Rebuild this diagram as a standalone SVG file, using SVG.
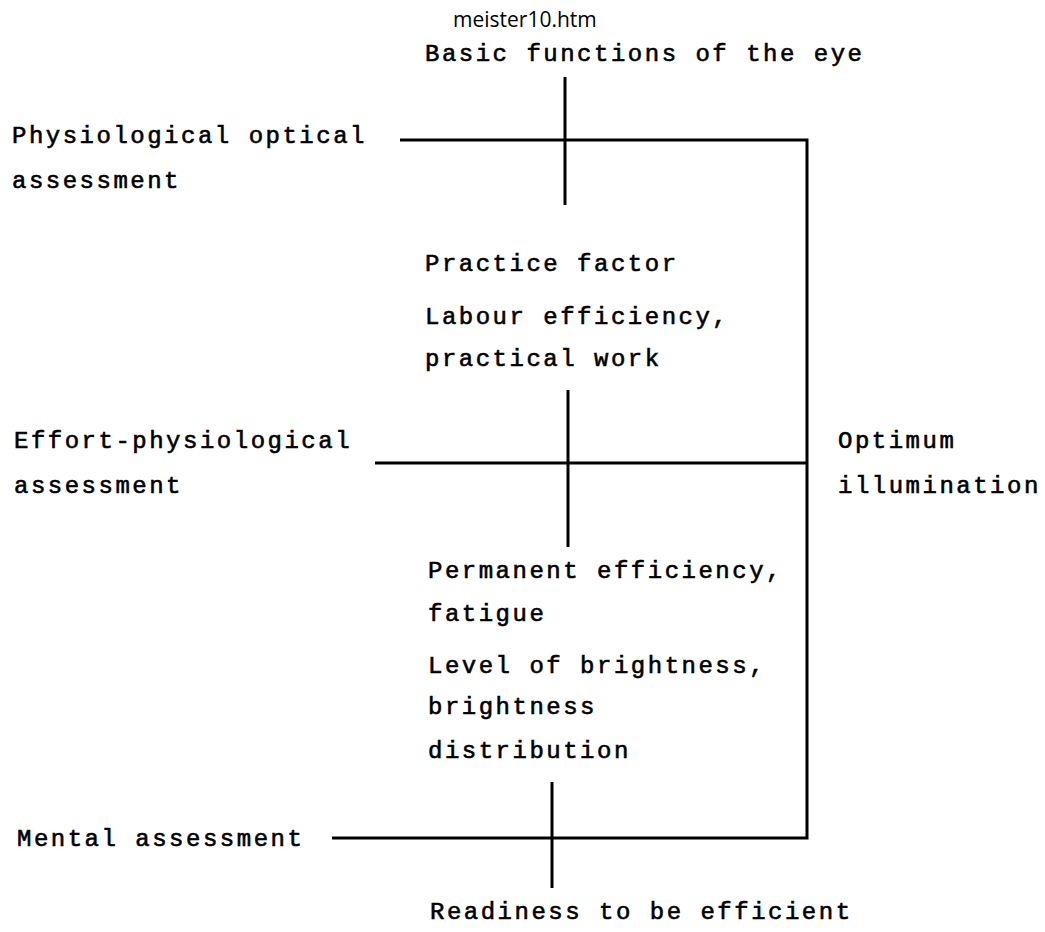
<svg xmlns="http://www.w3.org/2000/svg" width="1045" height="932" viewBox="0 0 1045 932">
<style>
.t{font-family:"Liberation Mono","DejaVu Sans Mono",monospace;font-size:24px;letter-spacing:2.5px;fill:#000;stroke:#000;stroke-width:0.6px}
.h{font-family:"Open Sans","Noto Sans",sans-serif;font-size:21px;fill:#000}
.c{stroke:#000;stroke-width:3;fill:none;stroke-linecap:butt}
</style>
<rect width="1045" height="932" fill="#fff"/>
<g id="header"><text class="h" x="453" y="27">meister10.htm</text></g>
<g id="basic"><text class="t" x="425" y="61">Basic functions of the eye</text></g>
<g id="physio"><text class="t" x="12" y="143">Physiological optical</text><text class="t" x="12" y="188">assessment</text></g>
<g id="practice"><text class="t" x="425" y="271">Practice factor</text></g>
<g id="labour"><text class="t" x="425" y="324">Labour efficiency,</text><text class="t" x="425" y="366">practical work</text></g>
<g id="effort"><text class="t" x="14" y="448">Effort-physiological</text><text class="t" x="14" y="493">assessment</text></g>
<g id="optimum"><text class="t" x="838" y="448">Optimum</text><text class="t" x="838" y="493">illumination</text></g>
<g id="permanent"><text class="t" x="428" y="578">Permanent efficiency,</text><text class="t" x="428" y="621">fatigue</text></g>
<g id="level"><text class="t" x="428" y="673">Level of brightness,</text><text class="t" x="428" y="714">brightness</text><text class="t" x="428" y="758">distribution</text></g>
<g id="mental"><text class="t" x="17" y="846">Mental assessment</text></g>
<g id="readiness"><text class="t" x="430" y="919">Readiness to be efficient</text></g>
<g id="connectors">
<line class="c" x1="565" y1="77" x2="565" y2="205"/>
<polyline class="c" points="400,140 807,140 807,838 332,838"/>
<line class="c" x1="568" y1="390" x2="568" y2="547"/>
<line class="c" x1="375" y1="463" x2="807" y2="463"/>
<line class="c" x1="552" y1="782" x2="552" y2="888"/>
</g>
</svg>
